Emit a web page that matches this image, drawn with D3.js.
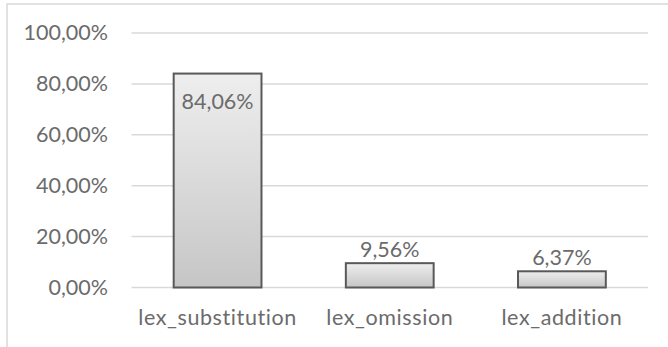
<!DOCTYPE html>
<html>
<head>
<meta charset="utf-8">
<script src="https://cdn.jsdelivr.net/npm/d3@7"></script>
<style>
html,body{margin:0;padding:0;background:#fff;}
svg{display:block;}
text{font-family:Lato,"Open Sans",sans-serif;fill:#6b6b6b;}
</style>
</head>
<body>
<svg id="chart" width="668" height="347"></svg>
<script>
const categories = ["lex_substitution", "lex_omission", "lex_addition"];
const values = [0.8406, 0.0956, 0.0637];
const yTicks = [0, 0.2, 0.4, 0.6, 0.8, 1.0];

const W = 668, H = 347;
const svg = d3.select("#chart");
const defs = svg.append("defs");
const grad = defs.append("linearGradient").attr("id","barGrad")
  .attr("x1",0).attr("y1",0).attr("x2",0).attr("y2",1);
grad.append("stop").attr("offset","0%").attr("stop-color","#eeeeee");
grad.append("stop").attr("offset","100%").attr("stop-color","#c6c6c6");

// outer chart border
svg.append("rect").attr("x",7).attr("y",4).attr("width",W).attr("height",H)
  .attr("fill","none").attr("stroke","#d9d9d9").attr("stroke-width",1.5);

const x = d3.scaleBand().domain(categories).range([131.5, 648]).paddingInner(0.49).paddingOuter(0.245);
const y = d3.scaleLinear().domain([0, 1]).range([287.5, 33]);

const fmt = v => (v*100).toFixed(2).replace(".", ",") + "%";
const FS = "21.5px";

// gridlines
svg.append("g").selectAll("line").data(yTicks).join("line")
  .attr("x1",131.5).attr("x2",648)
  .attr("y1",d=>y(d)).attr("y2",d=>y(d))
  .attr("stroke","#d9d9d9").attr("stroke-width",1.5);

// y axis labels
const yAxis = d3.axisLeft(y).tickValues(yTicks).tickFormat(fmt).tickSize(0).tickPadding(0);
const ya = svg.append("g").attr("transform","translate(108,0)").call(yAxis);
ya.select(".domain").remove();
ya.selectAll("text").attr("font-size",FS).attr("font-family","Lato").attr("fill","#6b6b6b");

// bars
svg.append("g").selectAll("rect").data(values).join("rect")
  .attr("x",(d,i)=>x(categories[i]))
  .attr("width",x.bandwidth())
  .attr("y",d=>y(d))
  .attr("height",d=>y(0)-y(d))
  .attr("fill","url(#barGrad)")
  .attr("stroke","#595959").attr("stroke-width",2);

// value labels
svg.append("g").selectAll("text").data(values).join("text")
  .attr("x",(d,i)=>x(categories[i])+x.bandwidth()/2)
  .attr("y",d=> d>0.5 ? y(d)+35 : y(d)-6)
  .attr("text-anchor","middle")
  .attr("font-size",FS)
  .text(d=>fmt(d));

// x axis labels
const xAxis = d3.axisBottom(x).tickSize(0).tickPadding(0);
const xa = svg.append("g").attr("transform","translate(0,310)").call(xAxis);
xa.select(".domain").remove();
xa.selectAll("text").attr("font-size",FS).attr("font-family","Lato").attr("fill","#6b6b6b")
  .attr("letter-spacing","0.6px").attr("dy","0.71em").attr("y",0);
</script>
</body>
</html>
